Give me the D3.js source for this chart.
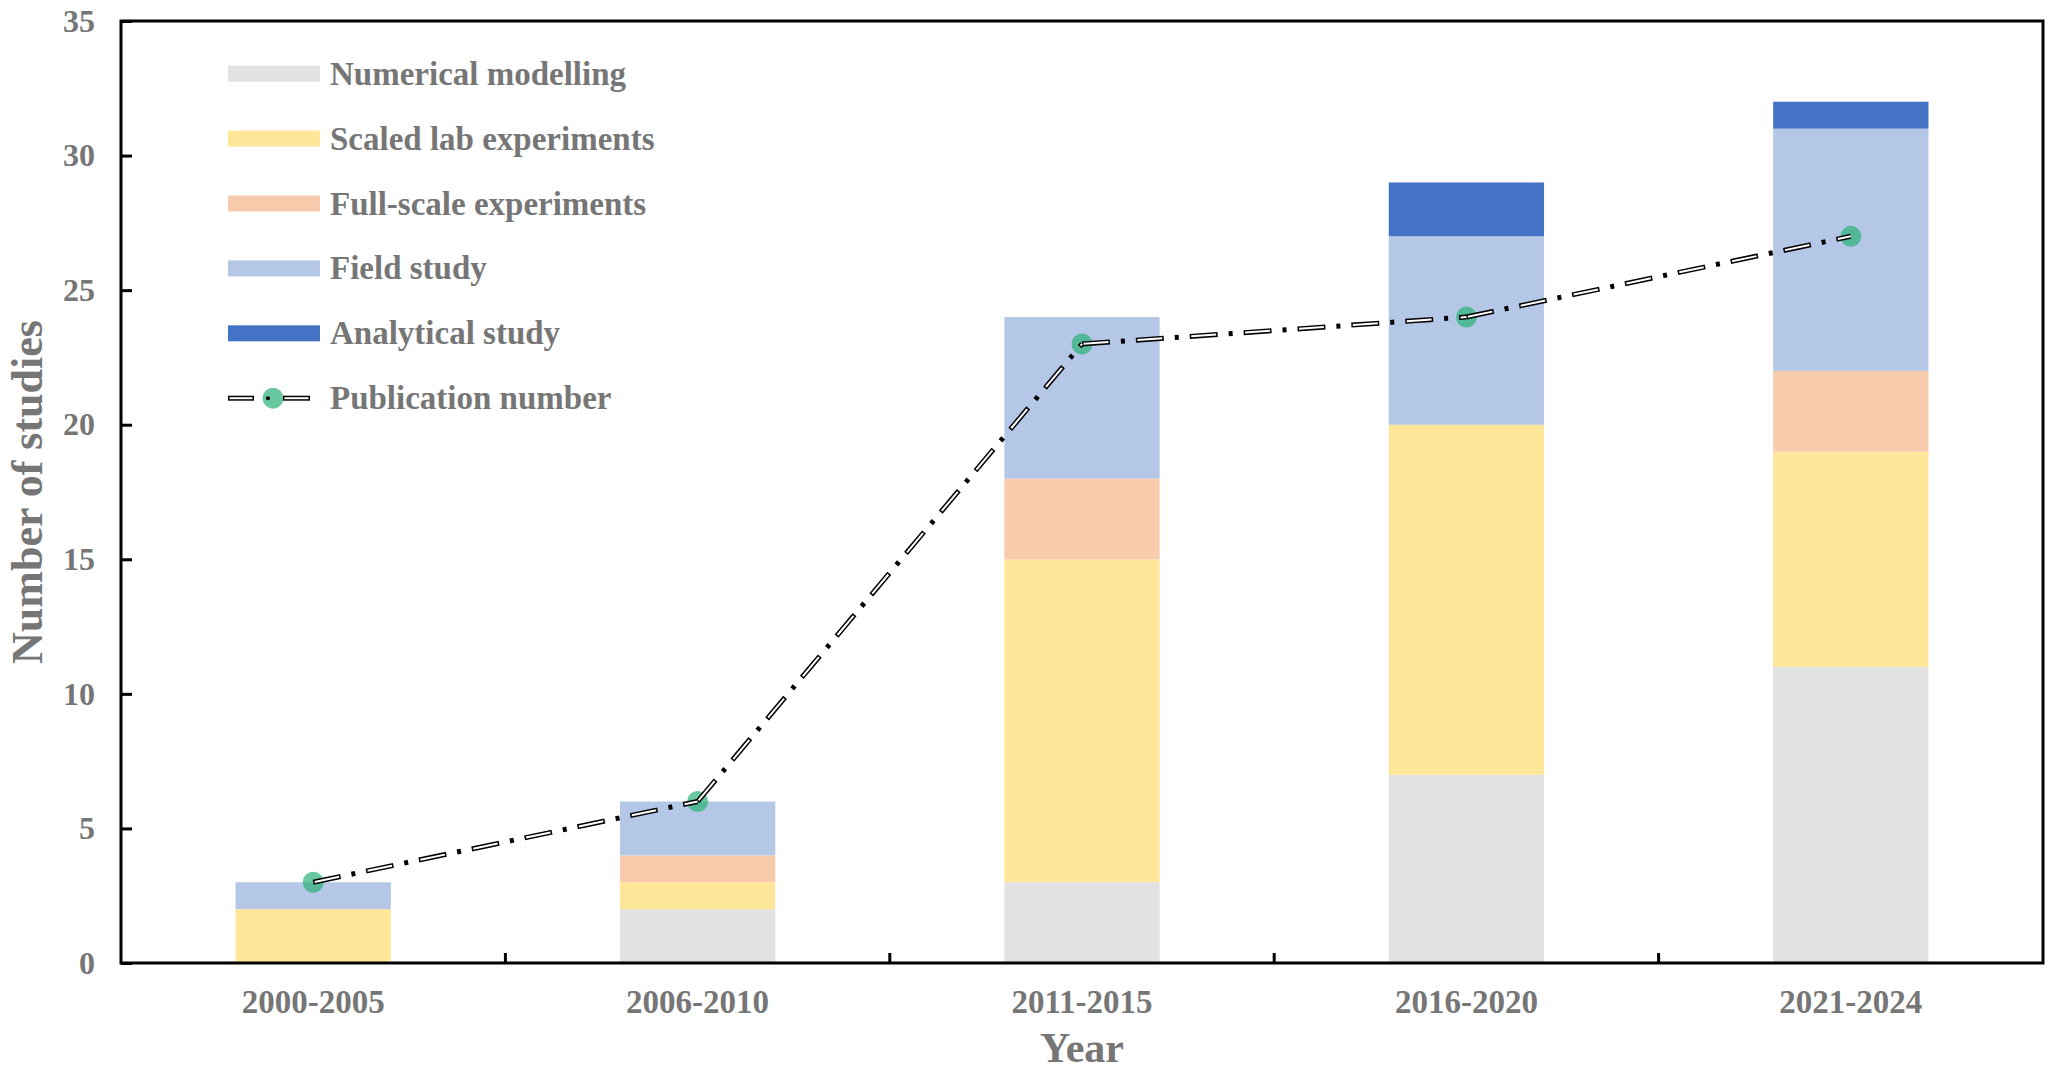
<!DOCTYPE html>
<html>
<head>
<meta charset="utf-8">
<script src="https://cdn.jsdelivr.net/npm/d3@7"></script>
<style>
  body { margin: 0; background: #fff; }
  text { font-family: "Liberation Serif", "Times New Roman", serif; font-weight: bold; fill: #767676; }
</style>
</head>
<body>
<div class="chart-container"></div>
<script>
// categories and series
const periods = ["2000-2005", "2006-2010", "2011-2015", "2016-2020", "2021-2024"]
const seriesNames = ["Numerical modelling", "Scaled lab experiments", "Full-scale experiments", "Field study", "Analytical study"]
const numerical  = [0, 2, 3, 7, 11]
const scaledLab  = [2, 1, 12, 13, 8]
const fullScale  = [0, 1, 3, 0, 3]
const field      = [1, 2, 6, 7, 9]
const analytical = [0, 0, 0, 2, 1]
const publications = [3, 6, 23, 24, 27]
const yTicks = [0, 5, 10, 15, 20, 25, 30, 35]

const colors = ["#E2E2E2", "#FFE699", "#F8CBAD", "#B4C7E7", "#4472C4"]

function createChart(){

    const width = 2060, height = 1073
    const margin = {top: 21, right: 17, bottom: 110, left: 121}

    //Build rows for d3.stack
    const table = periods.map((p, i) => ({
        period: p,
        "Numerical modelling": numerical[i],
        "Scaled lab experiments": scaledLab[i],
        "Full-scale experiments": fullScale[i],
        "Field study": field[i],
        "Analytical study": analytical[i]
    }))
    const stacked = d3.stack().keys(seriesNames)(table)

    const x = d3.scaleBand()
        .domain(periods)
        .range([margin.left, width - margin.right])
        .padding(0)

    const y = d3.scaleLinear()
        .domain([0, 35])
        .range([height - margin.bottom, margin.top])

    const barW = x.bandwidth() * 0.404

    const svg = d3.select(".chart-container").append("svg")
        .attr("width", width)
        .attr("height", height)

    //Stacked bars
    svg.append("g")
        .selectAll("g")
        .data(stacked)
        .join("g")
        .attr("fill", (d, i) => colors[i])
        .selectAll("rect")
        .data(d => d)
        .join("rect")
        .attr("x", d => x(d.data.period) + (x.bandwidth() - barW) / 2)
        .attr("y", d => y(d[1]))
        .attr("width", barW)
        .attr("height", d => y(d[0]) - y(d[1]))

    //Frame around the plot
    svg.append("rect")
        .attr("x", margin.left)
        .attr("y", margin.top)
        .attr("width", width - margin.right - margin.left)
        .attr("height", height - margin.bottom - margin.top)
        .attr("fill", "none")
        .attr("stroke", "#000")
        .attr("stroke-width", 3)

    //Y axis, ticks pointing inside
    svg.append("g")
        .attr("transform", `translate(${margin.left},0)`)
        .call(d3.axisLeft(y).tickValues(yTicks).tickSizeInner(-11).tickSizeOuter(0).tickPadding(26))
        .call(g => g.select(".domain").remove())
        .call(g => g.selectAll(".tick line").attr("stroke", "#000").attr("stroke-width", 3))
        .call(g => g.selectAll(".tick text").attr("font-size", 32).attr("fill", null))

    //X axis labels
    svg.append("g")
        .attr("transform", `translate(0,${height - margin.bottom})`)
        .call(d3.axisBottom(x).tickSize(0).tickPadding(27))
        .call(g => g.select(".domain").remove())
        .call(g => g.selectAll(".tick text").attr("font-size", 33).attr("fill", null))

    //X boundary ticks between categories
    svg.append("g")
        .selectAll("line")
        .data(periods.slice(1))
        .join("line")
        .attr("x1", d => x(d))
        .attr("x2", d => x(d))
        .attr("y1", height - margin.bottom)
        .attr("y2", height - margin.bottom - 10)
        .attr("stroke", "#000")
        .attr("stroke-width", 3)

    //Axis titles
    svg.append("text")
        .attr("x", (margin.left + width - margin.right) / 2)
        .attr("y", 1062)
        .attr("text-anchor", "middle")
        .attr("font-size", 42)
        .text("Year")

    svg.append("text")
        .attr("transform", `translate(42,${(margin.top + height - margin.bottom) / 2}) rotate(-90)`)
        .attr("text-anchor", "middle")
        .attr("font-size", 44)
        .text("Number of studies")

    //Publication number: markers then hollow dash-dot segments on top
    const pts = periods.map((p, i) => [x(p) + x.bandwidth() / 2, y(publications[i])])

    svg.append("g")
        .selectAll("circle")
        .data(pts)
        .join("circle")
        .attr("cx", d => d[0])
        .attr("cy", d => d[1])
        .attr("r", 10.5)
        .attr("fill", "#2DB37A")
        .attr("fill-opacity", 0.72)

    const line = d3.line()
    const segs = d3.pairs(pts)

    const lineG = svg.append("g").attr("fill", "none")
    lineG.selectAll(".outer")
        .data(segs)
        .join("path")
        .attr("d", line)
        .attr("stroke", "#000")
        .attr("stroke-width", 5)
        .attr("stroke-dasharray", "28 11 4 11")
    lineG.selectAll(".inner")
        .data(segs)
        .join("path")
        .attr("d", line)
        .attr("stroke", "#fff")
        .attr("stroke-width", 2)
        .attr("stroke-dasharray", "25 29")
        .attr("stroke-dashoffset", -1.5)

    //Legend
    const legX = 228, legY = 73.7, legStep = 64.9
    const leg = svg.append("g")
    seriesNames.forEach((name, i) => {
        leg.append("rect")
            .attr("x", legX)
            .attr("y", legY + i * legStep - 8)
            .attr("width", 92)
            .attr("height", 16)
            .attr("fill", colors[i])
        leg.append("text")
            .attr("x", legX + 102)
            .attr("y", legY + i * legStep + 11)
            .attr("font-size", 33)
            .text(name)
    })
    const ly = legY + 5 * legStep
    leg.append("circle")
        .attr("cx", legX + 45)
        .attr("cy", ly)
        .attr("r", 10.5)
        .attr("fill", "#2DB37A")
        .attr("fill-opacity", 0.72)
    const legSegs = [[[legX, ly], [legX + 26, ly]], [[legX + 55, ly], [legX + 82, ly]]]
    leg.selectAll(".lo")
        .data(legSegs)
        .join("path")
        .attr("d", line)
        .attr("stroke", "#000")
        .attr("stroke-width", 5)
        .attr("fill", "none")
    leg.selectAll(".li")
        .data(legSegs)
        .join("path")
        .attr("d", d => line([[d[0][0] + 1.5, d[0][1]], [d[1][0] - 1.5, d[1][1]]]))
        .attr("stroke", "#fff")
        .attr("stroke-width", 2)
        .attr("fill", "none")
    leg.append("circle")
        .attr("cx", legX + 40)
        .attr("cy", ly)
        .attr("r", 2)
        .attr("fill", "#000")
    leg.append("text")
        .attr("x", legX + 102)
        .attr("y", ly + 11)
        .attr("font-size", 33)
        .text("Publication number")
}

createChart()
</script>
</body>
</html>
